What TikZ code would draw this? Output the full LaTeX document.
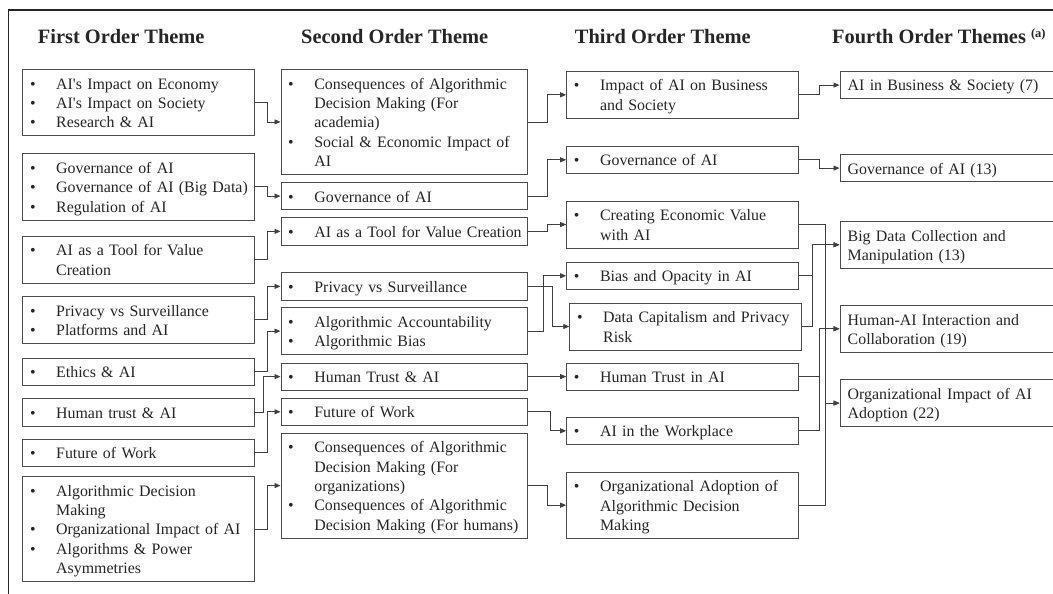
\documentclass[tikz,border=0pt]{standalone}
\usepackage{fontspec}
\setmainfont{Liberation Serif}
\usetikzlibrary{arrows.meta}

% strut for one text line of a box
\newcommand{\bxstrut}{\rule[-3.8pt]{0pt}{19.4pt}}
% bullet line with hanging text
\newcommand{\bitem}[1]{\leftskip=29.5pt\relax\noindent\llap{\makebox[29.5pt][l]{\hspace{3.3pt}\textbullet}}\bxstrut#1\bxstrut\par}
\newcommand{\pline}[1]{\bxstrut#1\bxstrut}

\begin{document}
\begin{tikzpicture}[
    x=1pt, y=-1pt,
    every node/.style={text=black!85},
    themebox/.style={draw=black!70, line width=0.8pt, anchor=north west,
        inner xsep=4pt, inner ysep=4pt, align=left,
        font=\fontsize{15.9}{19.4}\selectfont},
    tagbox/.style={themebox, inner xsep=7.8pt},
    colhead/.style={font=\fontsize{20.4}{24}\selectfont\bfseries, inner sep=0pt, anchor=base},
    conn/.style={draw=black!75, line width=0.8pt, -{Triangle[length=6pt,width=5pt]}},
    outline/.style={line width=1.3pt, black!85},
]
\useasboundingbox (0,0) rectangle (1053,594);

% === Column positions and text widths ===
\def\xA{22.3}    \def\wA{223.2pt}
\def\xB{280.5}   \def\wB{238.5pt}
\def\xC{566.2}   \def\wC{223.8pt}
\def\xD{839.5}   \def\wD{197.4pt}

% === Outer frame (top and left only) ===
\draw[outline] (8.5,594) -- (8.5,10) -- (1053,10);

% === Column headings ===
\node[colhead] (head1) at (121.2,43.3) {First Order Theme};
\node[colhead] (head2) at (394.7,43.3) {Second Order Theme};
\node[colhead] (head3) at (662.8,43.3) {Third Order Theme};
\node[colhead, anchor=base west] (head4) at (832,43.3)
    {Fourth Order Themes \raisebox{6pt}{\fontsize{12.5}{12.5}\selectfont(a)}};

% === First order themes ===
\node[themebox, text width=\wA] (first1) at (\xA,69)
    {\bitem{AI\textquotesingle s Impact on Economy}\bitem{AI\textquotesingle s Impact on Society}\bitem{Research \& AI}};
\node[themebox, text width=\wA] (first2) at (\xA,153.3)
    {\bitem{Governance of AI}\bitem{Governance of AI (Big Data)}\bitem{Regulation of AI}};
\node[themebox, text width=\wA] (first3) at (\xA,235.7)
    {\bitem{AI as a Tool for Value\newline Creation}};
\node[themebox, text width=\wA] (first4) at (\xA,296)
    {\bitem{Privacy vs Surveillance}\bitem{Platforms and AI}};
\node[themebox, text width=\wA] (first5) at (\xA,357.7) {\bitem{Ethics \& AI}};
\node[themebox, text width=\wA] (first6) at (\xA,398.3) {\bitem{Human trust \& AI}};
\node[themebox, text width=\wA] (first7) at (\xA,438.7) {\bitem{Future of Work}};
\node[themebox, text width=\wA] (first8) at (\xA,476)
    {\bitem{Algorithmic Decision\newline Making}\bitem{Organizational Impact of AI}\bitem{Algorithms \& Power\newline Asymmetries}};

% === Second order themes ===
\node[themebox, text width=\wB] (second1) at (\xB,69)
    {\bitem{Consequences of Algorithmic\newline Decision Making (For\newline academia)}\bitem{Social \& Economic Impact of\newline AI}};
\node[themebox, text width=\wB] (second2) at (\xB,182) {\bitem{Governance of AI}};
\node[themebox, text width=\wB] (second3) at (\xB,217.3) {\bitem{AI as a Tool for Value Creation}};
\node[themebox, text width=\wB] (second4) at (\xB,272.3) {\bitem{Privacy vs Surveillance}};
\node[themebox, text width=\wB] (second5) at (\xB,307.3)
    {\bitem{Algorithmic Accountability}\bitem{Algorithmic Bias}};
\node[themebox, text width=\wB] (second6) at (\xB,362.5) {\bitem{Human Trust \& AI}};
\node[themebox, text width=\wB] (second7) at (\xB,397.7) {\bitem{Future of Work}};
\node[themebox, text width=\wB] (second8) at (\xB,432.7)
    {\bitem{Consequences of Algorithmic\newline Decision Making (For\newline organizations)}\bitem{Consequences of Algorithmic\newline Decision Making (For humans)}};

% === Third order themes ===
\node[themebox, text width=\wC] (third1) at (\xC,71)
    {\bitem{Impact of AI on Business\newline and Society}};
\node[themebox, text width=\wC] (third2) at (\xC,145.7) {\bitem{Governance of AI}};
\node[themebox, text width=\wC] (third3) at (\xC,200.7)
    {\bitem{Creating Economic Value\newline with AI}};
\node[themebox, text width=\wC] (third4) at (\xC,261.7) {\bitem{Bias and Opacity in AI}};
\node[themebox, text width=\wC] (third5) at (569.3,302.7)
    {\bitem{Data Capitalism and Privacy\newline Risk}};
\node[themebox, text width=\wC] (third6) at (\xC,362.5) {\bitem{Human Trust in AI}};
\node[themebox, text width=\wC] (third7) at (\xC,416.7) {\bitem{AI in the Workplace}};
\node[themebox, text width=\wC] (third8) at (\xC,471.7)
    {\bitem{Organizational Adoption of\newline Algorithmic Decision\newline Making}};

% === Fourth order themes ===
\node[tagbox, text width=\wD] (fourth1) at (\xD,71) {\pline{AI in Business \& Society (7)}};
\node[tagbox, text width=\wD] (fourth2) at (\xD,154) {\pline{Governance of AI (13)}};
\node[tagbox, text width=\wD] (fourth3) at (\xD,221)
    {\pline{Big Data Collection and\newline Manipulation (13)}};
\node[tagbox, text width=\wD] (fourth4) at (\xD,305)
    {\pline{Human-AI Interaction and\newline Collaboration (19)}};
\node[tagbox, text width=\wD] (fourth5) at (\xD,379.3)
    {\pline{Organizational Impact of AI\newline Adoption (22)}};

% === First -> second ===
\draw[conn] (first1.east) -- ++(13.5,0) |- (second1.west);
\draw[conn] (first2.east) -- ++(13.5,0) |- (second2.west);
\draw[conn] (first3.east) -- ++(13.5,0) |- (second3.west);
\draw[conn] (first4.east) -- ++(13.5,0) |- (second4.west);
\draw[conn] (first5.east) -- ++(13.5,0) |- (second5.west);
\draw[conn] (first6.east) -- ++(9.5,0) |- (second6.west);
\draw[conn] (first7.east) -- ++(13.5,0) |- (second7.west);
\draw[conn] (first8.east) -- ++(13.5,0) |- (second8.west);

% === Second -> third ===
\draw[conn] (second1.east) -- ++(19.7,0) |- (third1.west);
\draw[conn] (second2.east) -- ++(19.7,0) |- (third2.west);
\draw[conn] (second3.east) -- ++(19.7,0) |- (third3.west);
\draw[conn] (second4.east) -- ++(24.7,0) |- (third5.west);
\draw[conn] (second5.east) -- ++(15.7,0) |- (third4.west);
\draw[conn] (second6.east) -- (third6.west);
\draw[conn] (second7.east) -- ++(22.3,0) |- (third7.west);
\draw[conn] (second8.east) -- ++(19.7,0) |- (third8.west);

% === Third -> fourth (shared risers) ===
\draw[conn] (third1.east) -- ++(21,0) |- (fourth1.west);
\draw[conn] (third2.east) -- ++(21,0) |- (fourth2.west);
\draw[conn] (third4.east) -- ++(14,0) |- (fourth3.west);
\draw[conn] (third5.east) -- ++(10.9,0) |- (fourth3.west);
\draw[conn] (third6.east) -- ++(20.3,0) |- (fourth4.west);
\draw[conn] (third7.east) -- ++(20.3,0) |- (fourth4.west);
\draw[conn] (third3.east) -- ++(27,0) |- (fourth5.west);
\draw[conn] (third8.east) -- ++(27,0) |- (fourth5.west);

\end{tikzpicture}
\end{document}
